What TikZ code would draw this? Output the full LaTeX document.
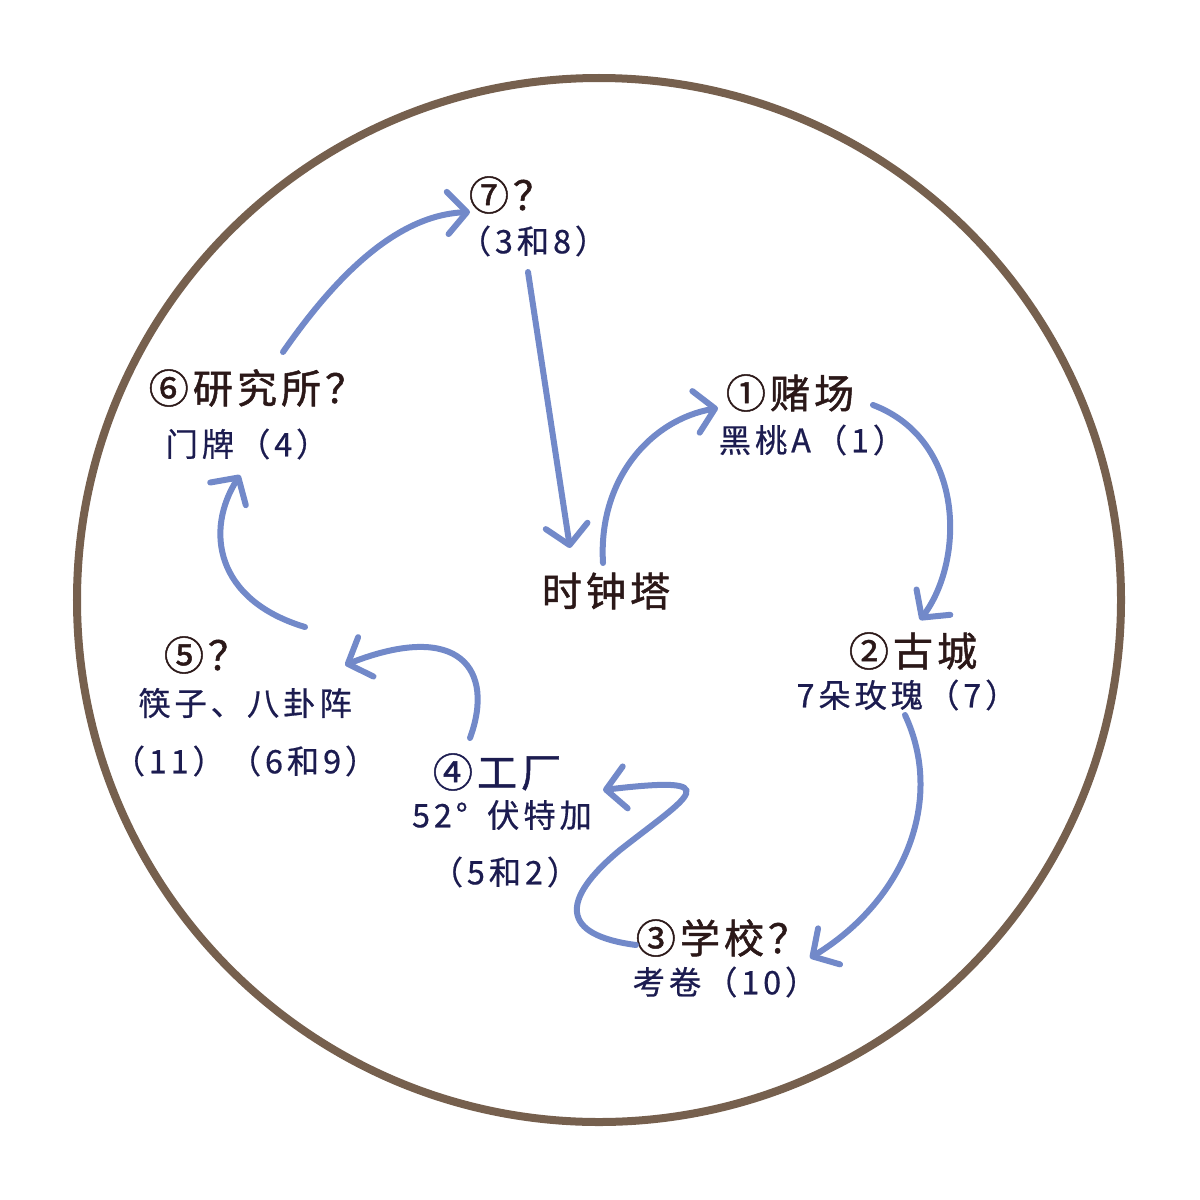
\documentclass[tikz,border=0pt]{standalone}
\usepackage{fontspec}
\usetikzlibrary{arrows.meta}
\newfontfamily\cjk{Noto Sans CJK SC}[LetterSpace=10, FakeBold=1.2]
\newfontfamily\cjkclue{Noto Sans CJK SC}[LetterSpace=12, FakeBold=0.6]
\definecolor{rimbrown}{HTML}{76604E}
\definecolor{titlebrown}{HTML}{2B1818}
\definecolor{cluenavy}{HTML}{1C1C50}
\definecolor{routeblue}{HTML}{7289C9}

\tikzset{
  place/.style={font=\cjk\fontsize{11.4}{13}\selectfont, text=titlebrown, inner sep=0pt},
  clue/.style={font=\cjkclue\fontsize{9.2}{11}\selectfont, text=cluenavy, inner sep=0pt},
  route/.style={draw=routeblue, line width=0.06cm, line cap=round,
    -{Straight Barb[length=5.5pt, width=12pt, round]}}
}

\begin{document}
\begin{tikzpicture}[x=0.01cm, y=-0.01cm]
  \useasboundingbox (0,0) rectangle (1200,1200);

  % Outer ring
  \draw[rimbrown, line width=0.08cm] (599,600) circle (522);

  % Stations
  \node[place] (clock) at (606,591) {时钟塔};

  \node[place] (casino) at (790,393) {①赌场};
  \node[clue]  (casinoclue) at (812,440) {黑桃A（1）};

  \node[place] (castle) at (913,651) {②古城};
  \node[clue]  (castleclue) at (907,695) {7朵玫瑰（7）};

  \node[place] (school) at (722,938) {③学校？};
  \node[clue]  (schoolclue) at (725,982) {考卷（10）};

  \node[place, text=cluenavy] (factory) at (497,772) {④工厂};
  \node[clue]  (factoryclue) at (502,815) {52°\hspace{0.6em}伏特加};
  \node[clue]  (factorynum) at (505,872) {（5和2）};

  \node[place] (five) at (206,655) {⑤？};
  \node[clue]  (fiveclue) at (245,703) {筷子、八卦阵};
  \node[clue]  (fivenum) at (245,761) {（11）（6和9）};

  \node[place] (lab) at (257,388) {⑥研究所？};
  \node[clue]  (labclue) at (247,444) {门牌（4）};

  \node[place] (seven) at (511,195) {⑦？};
  \node[clue]  (sevenclue) at (533,241) {（3和8）};

  % Route end points
  \coordinate (c1s) at (603,563);  \coordinate (c1e) at (718,408);
  \coordinate (c2s) at (873,405);  \coordinate (c2e) at (920,620);
  \coordinate (c3s) at (905,715);  \coordinate (c3e) at (810,958);
  \coordinate (c4s) at (636,945);  \coordinate (c4e) at (603,790);
  \coordinate (c5s) at (470,738);  \coordinate (c5e) at (345,665);
  \coordinate (c6s) at (305,627);  \coordinate (c6e) at (240,475);
  \coordinate (c7s) at (283,352);  \coordinate (c7e) at (470,212);
  \coordinate (c8s) at (528,272);  \coordinate (c8e) at (570,548);

  % Routes
  \draw[route] (c1s) .. controls (598,480) and (650,420) .. (c1e);
  \draw[route] (c2s) .. controls (965,440) and (965,560) .. (c2e);
  \draw[route] (c3s) .. controls (945,800) and (905,900) .. (c3e);
  \draw[route] (c4s) .. controls (560,935) and (560,900) .. (620,850)
                     .. controls (690,795) and (730,775) .. (c4e);
  \draw[route] (c5s) .. controls (495,670) and (460,620) .. (c5e);
  \draw[route] (c6s) .. controls (215,600) and (205,530) .. (c6e);
  \draw[route] (c7s) .. controls (340,270) and (400,215) .. (c7e);
  \draw[route] (c8s) -- (c8e);
\end{tikzpicture}
\end{document}
